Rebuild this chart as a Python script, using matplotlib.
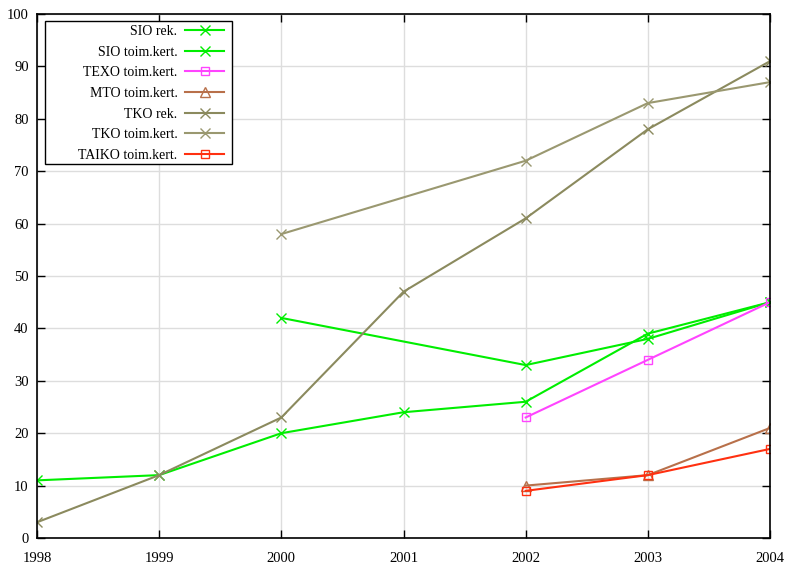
import matplotlib.pyplot as plt
from matplotlib.patches import Rectangle

plt.rcParams['font.family'] = ['Liberation Serif', 'DejaVu Serif']

years_all = [1998, 1999, 2000, 2001, 2002, 2003, 2004]
years_toim = [2000, 2002, 2003, 2004]
years_late = [2002, 2003, 2004]

sio_rek = [11, 12, 20, 24, 26, 39, 45]
sio_toim = [42, 33, 38, 45]
texo_toim = [23, 34, 45]
mto_toim = [10, 12, 21]
tko_rek = [3, 12, 23, 47, 61, 78, 91]
tko_toim = [58, 72, 83, 87]
taiko_toim = [9, 12, 17]

W, H = 788, 568
x0, y0, x1, y1 = 37, 14, 770, 538  # axes box in pixels (top-left origin)
aw, ah = x1 - x0, y1 - y0

fig = plt.figure(figsize=(W / 100, H / 100), dpi=100)
ax = fig.add_axes([x0 / W, (H - y1) / H, aw / W, ah / H])

lw = 1.5
ax.plot(years_all, sio_rek, color='#00ee00', lw=lw, marker='x', ms=7, label='SIO rek.')
ax.plot(years_toim, sio_toim, color='#00ee00', lw=lw, marker='x', ms=7, label='SIO toim.kert.')
ax.plot(years_late, texo_toim, color='#ff44ff', lw=lw, marker='s', ms=6, mfc='none', label='TEXO toim.kert.')
ax.plot(years_late, mto_toim, color='#b8704a', lw=lw, marker='^', ms=7, mfc='none', label='MTO toim.kert.')
ax.plot(years_all, tko_rek, color='#8b8a5e', lw=lw, marker='x', ms=7, label='TKO rek.')
ax.plot(years_toim, tko_toim, color='#9a9870', lw=lw, marker='x', ms=7, label='TKO toim.kert.')
ax.plot(years_late, taiko_toim, color='#ff3010', lw=lw, marker='s', ms=6, mfc='none', label='TAIKO toim.kert.')

ax.set_xlim(1998, 2004)
ax.set_ylim(0, 100)
ax.set_xticks(years_all)
ax.set_yticks(range(0, 101, 10))
ax.grid(True, color='#dddddd', lw=1)
ax.set_axisbelow(True)
ax.tick_params(direction='in', length=6, width=1, top=True, right=True,
               labelsize=10.5, color='black')
ax.tick_params(axis='x', pad=10)
ax.tick_params(axis='y', pad=6)
for s in ax.spines.values():
    s.set_linewidth(1.2)

# legend box (gnuplot-style: wide left padding, labels right-aligned)
bx0, by0, bx1, by1 = 45, 21, 232, 164
ax.add_patch(Rectangle(((bx0 - x0) / aw, (y1 - by1) / ah), (bx1 - bx0) / aw, (by1 - by0) / ah,
                       transform=ax.transAxes, facecolor='white', edgecolor='black',
                       lw=1, zorder=4))
leg = ax.legend(loc='upper right', bbox_to_anchor=((224 - x0) / aw, (y1 - 25) / ah),
                borderaxespad=0, borderpad=0, markerfirst=False, frameon=False,
                fontsize=10, handlelength=2.8, handletextpad=0.55, labelspacing=0.55)
leg.set_zorder(5)

fig.savefig('out.png', dpi=100)
